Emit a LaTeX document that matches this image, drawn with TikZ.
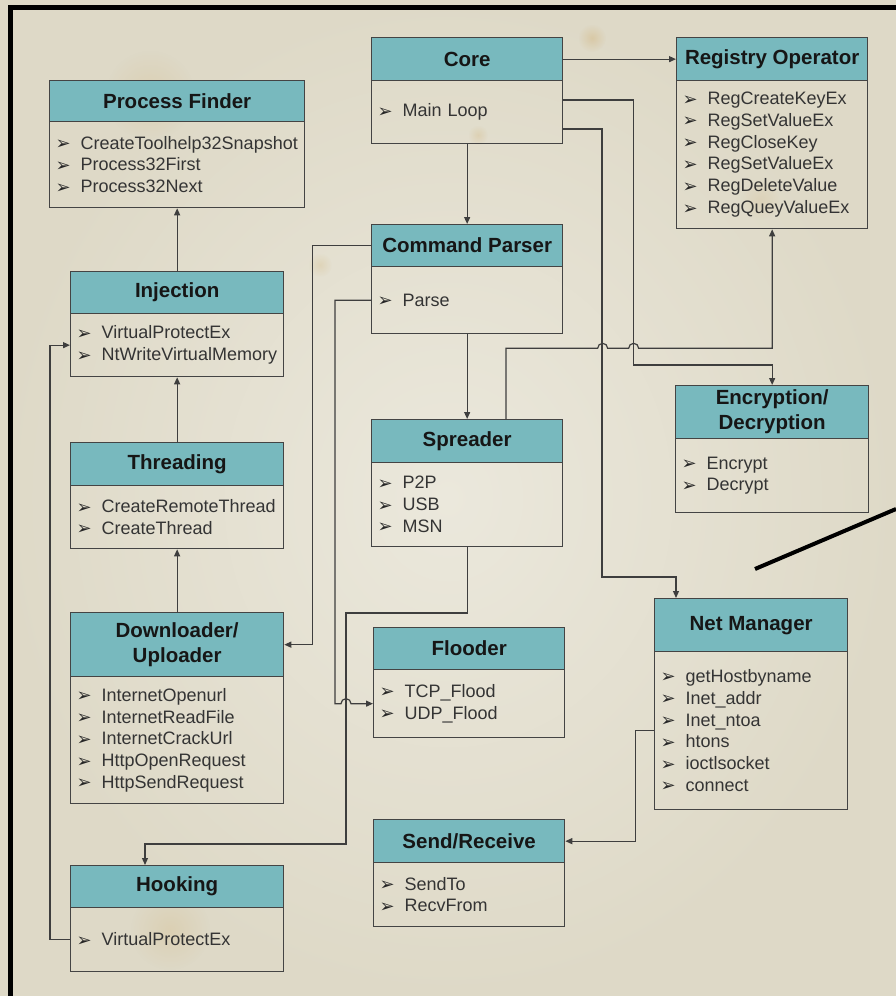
\documentclass[tikz,border=0pt]{standalone}
\usepackage{fontspec}
\setmainfont{Liberation Sans}
\newfontfamily\dingfont{DejaVu Sans}
\usetikzlibrary{arrows.meta,calc,fadings}

\definecolor{paperlight}{RGB}{235,232,220}
\definecolor{paperdark}{RGB}{222,217,199}
\definecolor{stain}{RGB}{205,165,90}
\definecolor{headfill}{RGB}{120,185,190}
\definecolor{boxline}{RGB}{68,68,68}
\definecolor{wireink}{RGB}{62,62,62}
\definecolor{titleink}{RGB}{22,22,22}
\definecolor{bodyink}{RGB}{52,52,52}

\tikzfading[name=blob, inner color=transparent!0, outer color=transparent!100]

% bullet glyph followed by the item text, kept on one line
\newcommand\itm[1]{\mbox{\makebox[25pt][l]{\raisebox{-0.5pt}{\dingfont\fontsize{18}{18}\selectfont\color{black!85}➢}}#1}}

% class box: name, left, top, right, header bottom, bottom, title, items
\newcommand\mkbox[8]{%
  \pgfmathsetmacro\boxW{#4-#2}%
  \pgfmathsetmacro\boxTW{#4-#2-12}%
  \pgfmathsetmacro\boxHH{#5-#3}%
  \pgfmathsetmacro\boxBH{#6-#5}%
  \node[hdr, minimum width=\boxW pt, minimum height=\boxHH pt] (#1H) at (#2,#3) {#7};
  \node[bdy, text width=\boxTW pt, minimum height=\boxBH pt] (#1B) at (#2,#5) {#8};
}

\tikzset{
  hdr/.style={draw=boxline, line width=1.3pt, fill=headfill, inner sep=0pt,
    anchor=north west, align=center, text=titleink,
    font=\fontsize{20.5}{25}\selectfont\bfseries},
  bdy/.style={draw=boxline, line width=1.3pt, inner xsep=6pt, inner ysep=0pt,
    anchor=north west, align=left, text=bodyink,
    font=\fontsize{18}{21.8}\selectfont},
  wire/.style={draw=wireink, line width=1.2pt},
  arr/.style={wire, -{Triangle[length=7pt,width=6pt]}},
  stainblob/.style={fill=stain, path fading=blob},
  frame/.style={draw=black, line width=5pt},
}

\begin{document}
\begin{tikzpicture}[x=1pt,y=-1pt]
\useasboundingbox (0,0) rectangle (896,996);

% aged paper
\shade[inner color=paperlight, outer color=paperdark] (0,0) rectangle (896,996);
\fill[stainblob, fill opacity=0.18] (150,95) circle[radius=45];
\fill[stainblob, fill opacity=0.30] (592,38) circle[radius=14];
\fill[stainblob, fill opacity=0.22] (478,135) circle[radius=10];
\fill[stainblob, fill opacity=0.20] (320,265) circle[radius=12];
\fill[stainblob, fill opacity=0.18] (170,930) circle[radius=40];
\fill[stainblob, fill opacity=0.15] (760,200) circle[radius=20];

% outer frame and the stroke at the right
\draw[frame] (10,996) -- (10,7.5) -- (896,7.5);
\draw[draw=black, line width=4pt] (755,569) -- (896,509);

% boxes
\mkbox{pf}{49}{80}{304}{121}{207}{Process Finder}{\itm{CreateToolhelp32Snapshot}\\\itm{Process32First}\\\itm{Process32Next}}
\mkbox{core}{371}{37}{562}{80}{143}{Core}{\itm{Main Loop}}
\mkbox{reg}{676}{37}{867}{80}{228}{Registry Operator}{\itm{RegCreateKeyEx}\\\itm{RegSetValueEx}\\\itm{RegCloseKey}\\\itm{RegSetValueEx}\\\itm{RegDeleteValue}\\\itm{RegQueyValueEx}}
\mkbox{cmd}{371}{224}{562}{266}{333}{Command Parser}{\itm{Parse}}
\mkbox{inj}{70}{271}{283}{313}{376}{Injection}{\itm{VirtualProtectEx}\\\itm{NtWriteVirtualMemory}}
\mkbox{thr}{70}{442}{283}{485}{548}{Threading}{\itm{CreateRemoteThread}\\\itm{CreateThread}}
\mkbox{spr}{371}{419}{562}{462}{546}{Spreader}{\itm{P2P}\\\itm{USB}\\\itm{MSN}}
\mkbox{enc}{675}{385}{868}{438}{512}{Encryption/\\Decryption}{\itm{Encrypt}\\\itm{Decrypt}}
\mkbox{dl}{70}{612}{283}{676}{803}{Downloader/\\Uploader}{\itm{InternetOpenurl}\\\itm{InternetReadFile}\\\itm{InternetCrackUrl}\\\itm{HttpOpenRequest}\\\itm{HttpSendRequest}}
\mkbox{fl}{373}{627}{564}{669}{737}{Flooder}{\itm{TCP\_Flood}\\\itm{UDP\_Flood}}
\mkbox{net}{654}{598}{847}{651}{809}{Net Manager}{\itm{getHostbyname}\\\itm{Inet\_addr}\\\itm{Inet\_ntoa}\\\itm{htons}\\\itm{ioctlsocket}\\\itm{connect}}
\mkbox{sr}{373}{819}{564}{862}{926}{Send/Receive}{\itm{SendTo}\\\itm{RecvFrom}}
\mkbox{hk}{70}{865}{283}{907}{971}{Hooking}{\itm{VirtualProtectEx}}

% connectors
\draw[arr] (coreB.south) -- (cmdH.north);
\draw[arr] (coreH.east) -- (regH.west);
\draw[arr] ($(coreB.north east)+(0,20)$) -| ($(encH.north)+(-139,-20)$) -| (encH.north);
\draw[arr] ($(coreB.north east)+(0,49)$) -| ($(netH.north west)+(-52,-21)$) -| ($(netH.north west)+(22,0)$);
\draw[arr] (cmdB.south) -- (sprH.north);
\draw[arr] ($(sprH.north west)+(135,0)$) |- ($(regB.south)+(-174.5,119)$)
  arc[start angle=180, end angle=360, radius=5] -- ++(21,0)
  arc[start angle=180, end angle=360, radius=5] -| (regB.south);
\draw[arr] (cmdH.west) -| ($(dlH.east)+(28,0)$) -- (dlH.east);
\draw[arr] (cmdB.west) -| ($(flB.west)+(-38,0)$) -- ($(flB.west)+(-32,0)$)
  arc[start angle=180, end angle=360, radius=5] -- (flB.west);
\draw[arr] (sprB.south) |- ($(hkH.north west)+(276,-252)$) |- ($(hkH.north west)+(75,-21)$) -- ($(hkH.north west)+(75,0)$);
\draw[arr] (hkB.west) -| ($(injB.west)+(-20,0)$) -- (injB.west);
\draw[arr] (thrH.north) -- (injB.south);
\draw[arr] (injH.north) -- (pfB.south);
\draw[arr] (dlH.north) -- (thrB.south);
\draw[arr] (netB.west) -| ($(srH.east)+(70,0)$) -- (srH.east);
\end{tikzpicture}
\end{document}
